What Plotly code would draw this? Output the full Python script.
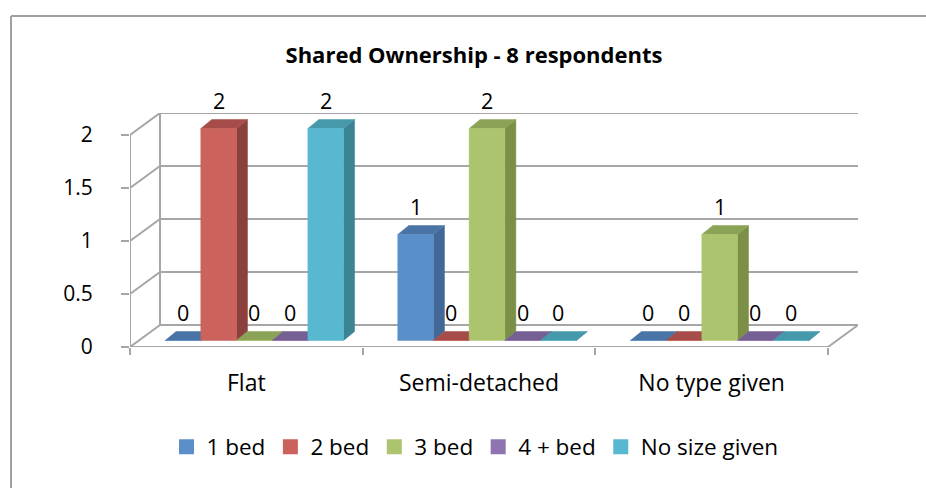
import plotly.graph_objects as go

# ---- data ----
categories = ["Flat", "Semi-detached", "No type given"]
series_names = ["1 bed", "2 bed", "3 bed", "4 + bed", "No size given"]
one_bed = [0, 1, 0]
two_bed = [2, 0, 0]
three_bed = [0, 2, 1]
four_bed = [0, 0, 0]
no_size = [2, 0, 0]
series_values = [one_bed, two_bed, three_bed, four_bed, no_size]
y_ticks = [0, 0.5, 1, 1.5, 2]
title_text = "Shared Ownership - 8 respondents"

# ---- styles ----
front_col = ["#5B8FC9", "#CB625C", "#ABC46D", "#8E74B0", "#57B8D0"]
side_col = ["#416896", "#8C403D", "#7B8F46", "#65527F", "#3A8494"]
top_col = ["#4A74A6", "#A64D49", "#8BA356", "#765F93", "#4599AB"]
FONT = "Open Sans, Lato, sans-serif"
GRID = "#a6a6a6"

W, H = 926, 488
ML, MR, MT, MB = 130, 68, 113, 141
PXX = 232.7          # px per category unit
PXY = 105.8          # px per value unit
WALL_DX, WALL_DY = 30 / PXX, 22 / PXY
BAR_FX, BAR_FY = 8 / PXX, 6.5 / PXY
BAR_DX, BAR_DY = 11 / PXX, 9 / PXY
BAR_W = 35.7 / PXX
n_ser = len(series_names)
group_w = BAR_W * n_ser
ymax = max(y_ticks)

fig = go.Figure()

# legend entries
for s, name in enumerate(series_names):
    fig.add_trace(go.Scatter(x=[None], y=[None], mode="markers", name=name,
                             marker=dict(symbol="square", size=15, color=front_col[s]),
                             hoverinfo="skip"))

annotations = []
for s in range(n_ser):
    fx, fy, sx, sy, tx, ty = [], [], [], [], [], []
    for c, v in enumerate(series_values[s]):
        x0 = c + 0.5 - group_w / 2 + s * BAR_W + BAR_FX
        x1 = x0 + BAR_W
        b = BAR_FY
        t = b + v
        fx += [x0, x1, x1, x0, x0, None]
        fy += [b, b, t, t, b, None]
        sx += [x1, x1 + BAR_DX, x1 + BAR_DX, x1, x1, None]
        sy += [b, b + BAR_DY, t + BAR_DY, t, b, None]
        tx += [x0, x1, x1 + BAR_DX, x0 + BAR_DX, x0, None]
        ty += [t, t, t + BAR_DY, t + BAR_DY, t, None]
        annotations.append(dict(x=(x0 + x1) / 2, y=t, xref="x", yref="y", text=str(v),
                                showarrow=False, yshift=28, yanchor="middle", xanchor="center",
                                font=dict(family=FONT, size=21.5, color="#000")))
    fig.add_trace(go.Scatter(x=sx, y=sy, fill="toself", fillcolor=side_col[s], mode="lines",
                             line=dict(width=0.5, color=side_col[s]), showlegend=False, hoverinfo="skip"))
    fig.add_trace(go.Scatter(x=tx, y=ty, fill="toself", fillcolor=top_col[s], mode="lines",
                             line=dict(width=0.5, color=top_col[s]), showlegend=False, hoverinfo="skip"))
    fig.add_trace(go.Scatter(x=fx, y=fy, fill="toself", fillcolor=front_col[s], mode="lines",
                             line=dict(width=0.5, color=front_col[s]), showlegend=False, hoverinfo="skip"))

# 3D frame: walls, gridlines, floor
shapes = []
ln = dict(color=GRID, width=2)
ncat = len(categories)
for tv in y_ticks:
    shapes.append(dict(type="line", xref="x", yref="y", x0=0, y0=tv, x1=WALL_DX, y1=tv + WALL_DY, line=ln, layer="below"))
    shapes.append(dict(type="line", xref="x", yref="y", x0=WALL_DX, y0=tv + WALL_DY,
                       x1=ncat + WALL_DX, y1=tv + WALL_DY, line=ln, layer="below"))
shapes.append(dict(type="line", xref="x", yref="y", x0=0, y0=0, x1=0, y1=ymax, line=ln, layer="below"))
shapes.append(dict(type="line", xref="x", yref="y", x0=WALL_DX, y0=WALL_DY, x1=WALL_DX, y1=ymax + WALL_DY, line=ln, layer="below"))
shapes.append(dict(type="line", xref="x", yref="y", x0=0, y0=0, x1=ncat, y1=0, line=ln, layer="below"))
shapes.append(dict(type="line", xref="x", yref="y", x0=ncat, y0=0, x1=ncat + WALL_DX, y1=WALL_DY, line=ln, layer="below"))
# chart border (left and top edges visible only)
pw, ph = W - ML - MR, H - MT - MB
shapes.append(dict(type="line", xref="paper", yref="paper",
                   x0=(11 - ML) / pw, x1=(11 - ML) / pw,
                   y0=(H - MB - (H + 10)) / ph, y1=(H - MB - 16) / ph,
                   line=dict(color="#a0a0a0", width=2), layer="below"))
shapes.append(dict(type="line", xref="paper", yref="paper",
                   x0=(11 - ML) / pw, x1=(W + 10 - ML) / pw,
                   y0=(H - MB - 16) / ph, y1=(H - MB - 16) / ph,
                   line=dict(color="#a0a0a0", width=2), layer="below"))

fig.update_layout(
    width=W, height=H,
    margin=dict(l=ML, r=MR, t=MT, b=MB, autoexpand=False),
    paper_bgcolor="white", plot_bgcolor="white",
    shapes=shapes, annotations=annotations,
    title=dict(text="<b>" + title_text + "</b>", x=474 / W, xanchor="center",
               y=1 - 55 / H, yanchor="middle",
               font=dict(family=FONT, size=22, color="#000")),
    xaxis=dict(range=[0, ncat + WALL_DX], tickvals=[i + 0.5 for i in range(ncat)], ticktext=categories,
               showgrid=False, zeroline=False, showline=False, ticks="",
               tickfont=dict(family=FONT, size=23, color="#000"), ticklabelstandoff=20,
               minor=dict(tickvals=list(range(ncat + 1)), ticks="outside", ticklen=7,
                          tickcolor=GRID, tickwidth=2, showgrid=False),
               fixedrange=True),
    yaxis=dict(range=[0, ymax + WALL_DY], tickvals=y_ticks, ticktext=[f"{t:g}" for t in y_ticks],
               showgrid=False, zeroline=False, showline=False, ticks="outside", ticklen=8,
               tickcolor=GRID, tickwidth=2, ticklabelstandoff=24,
               tickfont=dict(family=FONT, size=21, color="#000"), fixedrange=True),
    legend=dict(orientation="h", x=(475 - ML) / pw, xanchor="center",
                y=(H - MB - 447) / ph, yanchor="middle",
                font=dict(family=FONT, size=22.5, color="#000"), itemwidth=30,
                bgcolor="rgba(0,0,0,0)"),
    hovermode=False,
)

fig.write_html("out.html", config={"displayModeBar": False},
               post_script="document.body.style.margin='0px';"
                           "document.body.style.overflow='hidden';"
                           "document.documentElement.style.overflow='hidden';")
